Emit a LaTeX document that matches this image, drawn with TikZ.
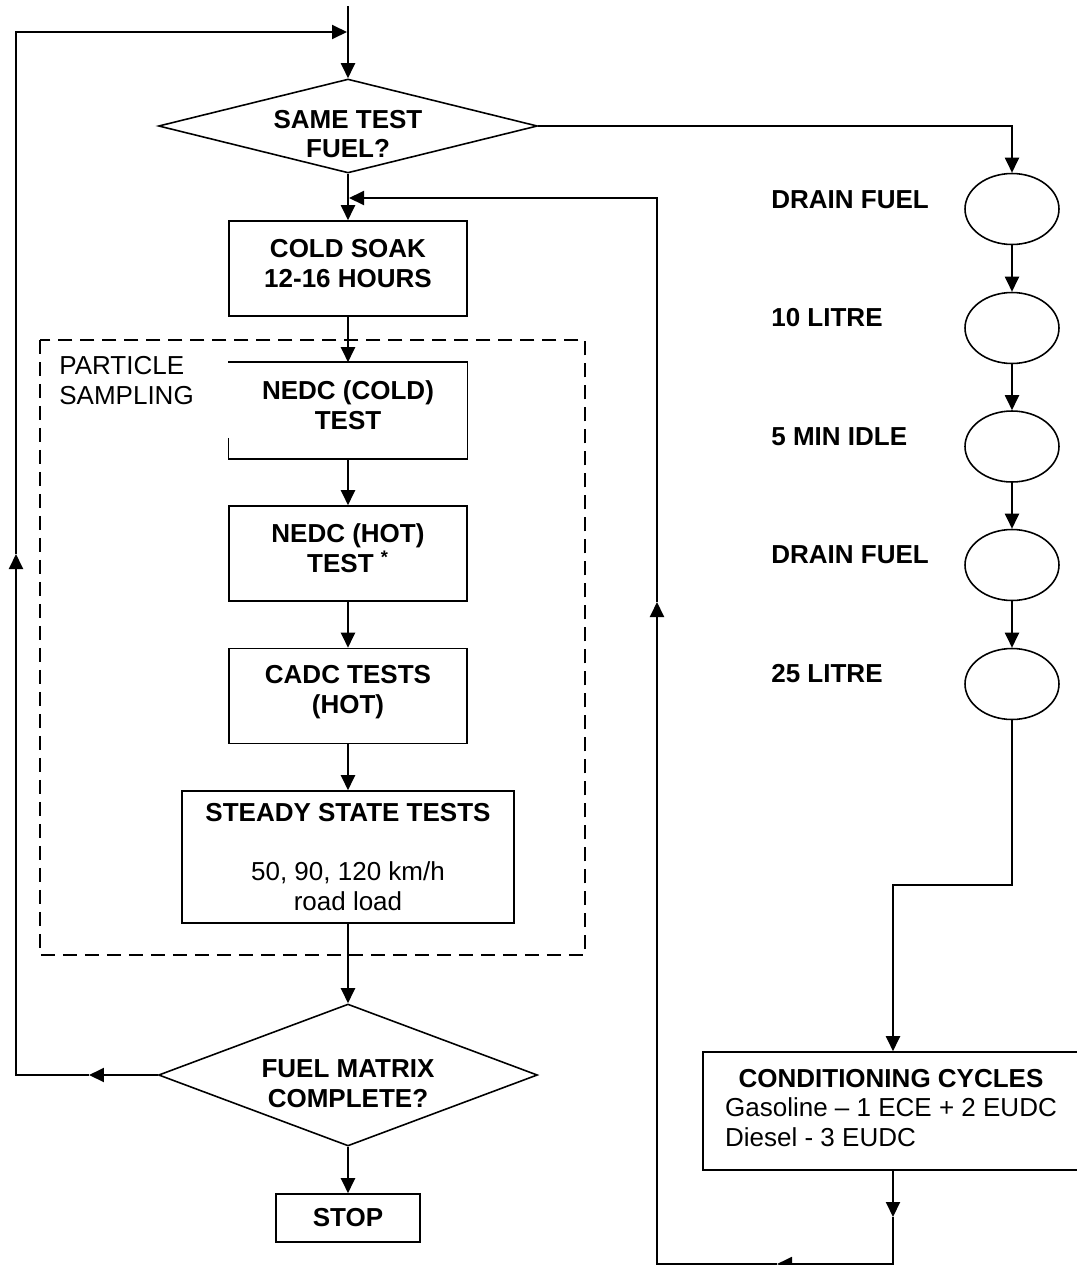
\documentclass[tikz,border=0pt]{standalone}
\usepackage{fontspec}
\setmainfont{Liberation Sans}
\usetikzlibrary{arrows.meta,positioning,shapes.geometric}

\newcommand{\lowend}[1][0.2cm]{\rule[-#1]{0pt}{0pt}}

\tikzset{
  box/.style={draw,line width=0.9pt,minimum width=4.75cm,minimum height=1.9cm,inner sep=0pt,align=center,font=\bfseries},
  decision/.style={draw,diamond,line width=0.9pt,inner sep=0pt},
  decisiontext/.style={inner sep=0pt,align=center,font=\bfseries},
  tank/.style={draw,ellipse,line width=0.9pt,minimum width=1.88cm,minimum height=1.42cm,inner sep=0pt},
  tanklabel/.style={anchor=base west,inner sep=0pt,font=\bfseries},
  arr/.style={-{Triangle[length=0.3cm,width=0.28cm]},line width=1.1pt},
  zone/.style={line width=0.9pt,dash pattern=on 0.28cm off 0.16cm}
}

\begin{document}
\begin{tikzpicture}[x=0.02cm,y=-0.02cm]
\fontsize{14.8}{17}\selectfont
\useasboundingbox (0,0) rectangle (1077,1265);

% sampling zone
\draw[zone] (40,340) rectangle (585,955);
\node[anchor=north west,inner sep=0pt,align=left] (pslabel) at (59,356) {PARTICLE\\SAMPLING};

% main column
\node[decision,aspect=4,minimum width=7.58cm,minimum height=1.88cm] (sf) at (348,126) {};
\node[decisiontext] (sftext) at ([yshift=-0.16cm]sf.center) {SAME TEST\\FUEL?};
\node[box] (cs) at (348,268.5) {COLD SOAK\\12-16 HOURS\lowend};
\node[box,draw=none] (nc) at (348,410.5) {NEDC (COLD)\\TEST\lowend};
\draw[line width=0.9pt] ([yshift=0.42cm]nc.south west) -- (nc.south west) -- (nc.south east) -- (nc.north east) -- (nc.north west);
\node[box] (nh) at (348,553.5) {NEDC (HOT)\\TEST \textsuperscript{*}\lowend[0.22cm]};
\node[box] (cadc) at (348,696) {CADC TESTS\\(HOT)\lowend[0.28cm]};
\node[box,minimum width=6.64cm,minimum height=2.64cm] (ss) at (348,857)
  {STEADY STATE TESTS\\ \\ \normalfont 50, 90, 120 km/h\\ \normalfont road load};
\node[decision,aspect=2.67,minimum width=7.58cm,minimum height=2.84cm] (fm) at (348,1075) {};
\node[decisiontext] (fmtext) at ([yshift=-0.18cm]fm.center) {FUEL MATRIX\\COMPLETE?};
\node[box,minimum width=2.88cm,minimum height=0.96cm] (stop) at (348,1218) {STOP};

% fuel change column
\node[tank] (e1) at (1012,209) {};
\node[tank] (e2) at (1012,328) {};
\node[tank] (e3) at (1012,446.5) {};
\node[tank] (e4) at (1012,565) {};
\node[tank] (e5) at (1012,684) {};
\node[tanklabel] (t1) at (771,208) {DRAIN FUEL};
\node[tanklabel] (t2) at (771,326) {10 LITRE};
\node[tanklabel] (t3) at (771,445) {5 MIN IDLE};
\node[tanklabel] (t4) at (771,563) {DRAIN FUEL};
\node[tanklabel] (t5) at (771,682) {25 LITRE};
\node[draw,line width=0.9pt,minimum width=7.52cm,minimum height=2.36cm,inner sep=0pt] (cc) at (891,1111)
  {\begin{tabular}{@{}l@{}}\multicolumn{1}{@{}c@{}}{\bfseries CONDITIONING CYCLES}\\
   Gasoline – 1 ECE + 2 EUDC\\ Diesel - 3 EUDC\end{tabular}};

% helper points
\coordinate (top) at (348,6);
\coordinate (topjoin) at (347,32);
\coordinate (lt) at (16,32);
\coordinate (lb) at (16,1075);
\coordinate (lbarr) at (89,1075);
\coordinate (luparr) at (16,554);
\coordinate (bend) at (893,885);
\coordinate (rdarr) at (893,1217);
\coordinate (rb) at (893,1264);
\coordinate (rbarr) at (777,1264);
\coordinate (rl) at (657,1264);
\coordinate (ruparr) at (657,602);
\coordinate (rt) at (657,198);
\coordinate (retjoin) at (349,198);

% connectors
\draw[arr] (top) -- (sf.north);
\draw[arr] (sf.south) -- (cs.north);
\draw[arr] (cs.south) -- (nc.north);
\draw[arr] (nc.south) -- (nh.north);
\draw[arr] (nh.south) -- (cadc.north);
\draw[arr] (cadc.south) -- (ss.north);
\draw[arr] (ss.south) -- (fm.north);
\draw[arr] (fm.south) -- (stop.north);

\draw[arr] (fm.west) -- (lbarr);
\draw[arr] (lbarr) -- (lb) -- (luparr);
\draw[arr] (luparr) -- (lt) -- (topjoin);

\draw[arr] (sf.east) -| (e1.north);
\draw[arr] (e1) -- (e2);
\draw[arr] (e2) -- (e3);
\draw[arr] (e3) -- (e4);
\draw[arr] (e4) -- (e5);
\draw[arr] (e5.south) |- (bend) -- (bend |- cc.north);
\draw[arr] (bend |- cc.south) -- (rdarr);
\draw[arr] (rdarr) -- (rb) -- (rbarr);
\draw[arr] (rbarr) -- (rl) -- (ruparr);
\draw[arr] (ruparr) -- (rt) -- (retjoin);
\end{tikzpicture}
\end{document}
